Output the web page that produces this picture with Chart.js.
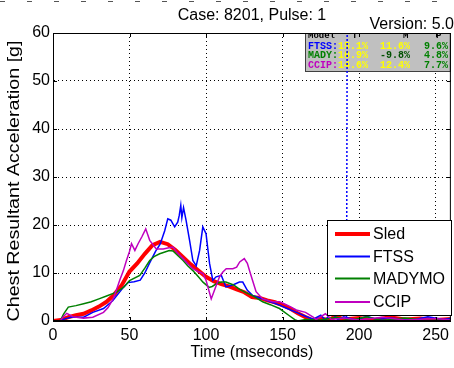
<!DOCTYPE html>
<html lang="en">
<head>
<meta charset="UTF-8">
<title>Case: 8201, Pulse: 1</title>
<script src="https://cdn.jsdelivr.net/npm/chart.js@4.4.0/dist/chart.umd.min.js"></script>
<style>body{margin:0;background:#fff}</style>
</head>
<body>
<canvas id="myChart" width="454" height="368"></canvas>
<script>
// values (time in ms, acceleration in g)
const sledT = [0,5,10,15,20,25,30,35,40,45,50,55,60,65,70,75,80,85,90,95,100,105,110,115,120,125,130,135,140,145,150,155,160,165,170,175,180,185,190,200,210,220,230,240,250,260];
const sledG = [0,0.2,0.8,1.2,1.5,2.2,3.0,4.0,5.5,7.5,10.3,12.0,14.0,15.8,16.5,16.0,14.8,13.3,11.8,10.5,9.2,8.3,7.7,7.2,6.6,6.0,5.0,4.8,4.3,3.9,3.3,2.6,1.6,0.8,0.1,0.5,0.2,1.0,0.3,0.6,0.2,0.8,0.3,0.5,0.2,0.4];

const ftssT = [0,5,8,12,20,26,33,39,46,49,53,57,60,63,67,70,73,75,77,79.5,81.5,82.5,83.5,84.2,85.3,87,89.3,91.4,93.6,95.8,97.9,100,102.3,104.4,106.6,110,113,117.5,121.8,124,127,130.5,137,142,148,153,159,165,170,175,178,182,186,190,198,205,212,220,235,245,255,260];
const ftssG = [0,0,0.5,0.8,0.8,1.8,2.6,4.2,7.0,8.0,8.2,8.5,10,12,14.5,16,18.8,21.3,21,19.6,20.6,22,24.1,21.5,23.6,20.9,16.7,12.6,11.5,14.7,19.6,18.2,12,8.5,9.2,9.5,7.1,7.5,8.1,8.1,6.4,5.3,4.6,4.0,3.3,2.6,1.8,1.0,0.4,1.2,0.2,1.8,0.3,0.9,0.2,1.0,0.3,0.6,0.2,0.9,0.3,0.6];

const madyT = [0,4.6,7,10,15,20,25,30,35,41.5,46,50,56.7,60,63.2,66,69.7,76,78.4,81,85,88,91.4,95,98,102,104,107,110,113,118,122,126,130.5,137,142,148,154,158,160,165,175,185,195,205,215,230,245,260];
const madyG = [0,0,1.5,2.9,3.2,3.6,4.0,4.6,5.2,6.0,7.0,8.4,9.5,11,12.6,13.4,14,14.7,14.6,13.8,12.6,11.5,10.5,9.2,8.1,7.0,7.2,7.8,8.1,8.1,7.5,6.6,5.9,5.3,4.0,3.4,2.6,1.2,0.3,0,0.3,0.2,0.8,0.2,0.9,0.1,0.6,0.1,0.3];

const ccipT = [0,4.6,7,9,13,20,26,33,36,39.3,41.5,43.6,46,48,50,51.3,53.5,55.6,58,60.6,63.2,67.5,72,75,78.4,81,85,88,91.4,95,98,100,103.4,105.5,108.8,111,113.2,117.5,120,122,125,127,129,132.7,137,143.5,148,151,155,159,165,170,172,178,182,190,200,215,230,250,260];
const ccipG = [0,0,1.0,1.6,0.9,0.6,0.8,1.8,2.8,4.6,6.5,8.5,10.5,12.6,14.5,16.1,14.7,16.1,17.5,19.2,16.8,15,15,15.2,15.4,14.3,13,12,10.9,10.3,9.9,8.5,4.6,6.4,9.2,10.2,10.9,10.9,11.2,12.3,13.0,12,9.9,6.1,4.6,4.0,4.0,3.6,3.0,2.3,1.8,0.8,0.3,1.5,0.3,0.6,0.2,0.8,0.2,0.5,0.2];

// FTSS spike that leaves the axes around 192 ms
const spikeT = [191.8,192.3];
const spikeG = [0,70];

const seriesNames = ['Sled','FTSS','MADYMO','CCIP'];
const seriesColors = ['#ff0000','#0000ff','#008000','#bf00bf'];
const xTicks = [0,50,100,150,200,250];
const yTicks = [0,10,20,30,40,50,60];

// fit table (model, T, M, P)
const fitModels = ['FTSS:','MADY:','CCIP:'];
const fitT = ['15.1%','10.9%','14.6%'];
const fitM = ['11.6%','-9.8%','12.4%'];
const fitP = ['9.6%','4.8%','7.7%'];

const FONT = '"Liberation Sans", Arial, sans-serif';
const MONO = 'bold 10px "Liberation Mono", "DejaVu Sans Mono", monospace';

function pts(t, g){ return t.map((v,i) => ({x: v, y: g[i]})); }

const decor = {
    id: 'decor',
    beforeDatasetsDraw(chart){
        const ctx = chart.ctx;
        const a = chart.chartArea;
        // fit table in the upper right corner
        const x0 = 305, y0 = a.top, x1 = a.right, y1 = 72;
        ctx.save();
        ctx.fillStyle = '#c0c0c0';
        ctx.fillRect(x0, y0, x1 - x0, y1 - y0);
        ctx.strokeStyle = '#404040';
        ctx.lineWidth = 1;
        ctx.strokeRect(x0 + 0.5, y0 + 0.5, x1 - x0 - 1, y1 - y0 - 1);
        ctx.beginPath();
        ctx.rect(x0, y0, x1 - x0, y1 - y0);
        ctx.clip();
        ctx.textBaseline = 'alphabetic';
        ctx.fillStyle = '#000';
        ctx.font = 'bold 9px "Liberation Mono", monospace';
        ctx.fillText('Model', 308, 38);
        ctx.fillText('T', 352, 38);
        ctx.fillText('M', 403, 38);
        ctx.fillText('P', 436, 38);
        ctx.font = MONO;
        const labelCol = ['#0000ff','#008000','#bf00bf'];
        const mCol = ['#ffff00','#005000','#ffff00'];
        for (let i = 0; i < 3; i++){
            const yb = 48.5 + i * 9.5;
            ctx.fillStyle = labelCol[i];
            ctx.fillText(fitModels[i], 308, yb);
            ctx.fillStyle = '#ffff00';
            ctx.fillText(fitT[i], 338, yb);
            ctx.fillStyle = mCol[i];
            ctx.textAlign = 'right';
            ctx.fillText(fitM[i], 410, yb);
            ctx.fillStyle = '#008000';
            ctx.fillText(fitP[i], 448, yb);
            ctx.textAlign = 'left';
        }
        ctx.restore();
    },
    afterDatasetsDraw(chart){
        const ctx = chart.ctx;
        const a = chart.chartArea;
        const xs = chart.scales.x, ys = chart.scales.y;
        ctx.save();
        // axes box and inward ticks
        ctx.strokeStyle = '#000';
        ctx.lineWidth = 1;
        ctx.strokeRect(a.left + 0.5, a.top + 0.5, a.right - a.left - 1, a.bottom - a.top - 1);
        ctx.beginPath();
        xTicks.forEach(v => {
            const px = Math.round(xs.getPixelForValue(v)) + 0.5;
            ctx.moveTo(px, a.bottom); ctx.lineTo(px, a.bottom - 4);
            ctx.moveTo(px, a.top); ctx.lineTo(px, a.top + 4);
        });
        yTicks.forEach(v => {
            const py = Math.round(ys.getPixelForValue(v)) + 0.5;
            ctx.moveTo(a.left, py); ctx.lineTo(a.left + 4, py);
            ctx.moveTo(a.right, py); ctx.lineTo(a.right - 4, py);
        });
        ctx.stroke();

        // legend box inside the axes
        const lx = 327, ly = 220, lw = 124, lh = 95;
        ctx.fillStyle = '#fff';
        ctx.fillRect(lx, ly, lw, lh);
        ctx.strokeRect(lx + 0.5, ly + 0.5, lw, lh);
        const rows = [234, 256.5, 278.5, 302];
        ctx.font = '16px ' + FONT;
        ctx.textBaseline = 'middle';
        seriesNames.forEach((n, i) => {
            ctx.strokeStyle = seriesColors[i];
            ctx.lineWidth = i === 0 ? 4 : 2;
            ctx.beginPath();
            ctx.moveTo(335, rows[i]); ctx.lineTo(370, rows[i]);
            ctx.stroke();
            ctx.fillStyle = '#000';
            ctx.fillText(n, 373, rows[i] + 1);
        });
        ctx.restore();
    },
    afterDraw(chart){
        const ctx = chart.ctx;
        ctx.save();
        ctx.fillStyle = '#000';
        ctx.textBaseline = 'alphabetic';
        ctx.font = '16px ' + FONT;
        ctx.textAlign = 'center';
        ctx.fillText('Case: 8201, Pulse: 1', 252, 20);
        ctx.textAlign = 'right';
        ctx.fillText('Version: 5.0', 454, 29);
        // clipped row at the very top
        ctx.strokeStyle = '#555';
        ctx.setLineDash([5, 22]);
        ctx.beginPath();
        ctx.moveTo(0, 1.5); ctx.lineTo(454, 1.5);
        ctx.stroke();
        ctx.setLineDash([]);
        // y axis title, stretched like the original
        ctx.translate(15, 181);
        ctx.rotate(-Math.PI / 2);
        ctx.textAlign = 'center';
        ctx.textBaseline = 'middle';
        const title = 'Chest Resultant Acceleration [g]';
        const w = ctx.measureText(title).width;
        ctx.scale(281 / w, 1);
        ctx.fillText(title, 0, 0);
        ctx.restore();
    }
};

const gridColor = c => (c.tick && (c.tick.value === 0 || c.tick.value === 60)) ? 'rgba(0,0,0,0)' : '#000';

new Chart(document.getElementById('myChart'), {
    type: 'line',
    data: {
        datasets: [
            {label: 'Sled', data: pts(sledT, sledG), borderColor: seriesColors[0], borderWidth: 4, order: 4},
            {label: 'FTSS', data: pts(ftssT, ftssG), borderColor: seriesColors[1], borderWidth: 1.5, order: 3},
            {label: 'FTSS spike', data: pts(spikeT, spikeG), borderColor: seriesColors[1], borderWidth: 1.5, borderDash: [2, 2], order: 3},
            {label: 'MADYMO', data: pts(madyT, madyG), borderColor: seriesColors[2], borderWidth: 1.5, order: 2},
            {label: 'CCIP', data: pts(ccipT, ccipG), borderColor: seriesColors[3], borderWidth: 1.5, order: 1}
        ]
    },
    options: {
        responsive: false,
        animation: false,
        events: [],
        layout: {padding: {top: 33, right: 2, left: 0, bottom: 0}},
        elements: {point: {radius: 0}, line: {tension: 0, fill: false}},
        plugins: {legend: {display: false}, tooltip: {enabled: false}, title: {display: false}},
        scales: {
            x: {
                type: 'linear', min: 0, max: 260,
                afterFit: s => { s.height = 47; },
                ticks: {stepSize: 50, includeBounds: false, padding: 5, color: '#000', font: {family: FONT, size: 16}, maxRotation: 0},
                grid: {color: gridColor, drawTicks: false, lineWidth: 1},
                border: {display: true, color: '#000', dash: [1, 3]},
                title: {display: true, text: 'Time (mseconds)', color: '#000', font: {family: FONT, size: 16}, padding: {top: 0, bottom: 6}}
            },
            y: {
                min: 0, max: 60,
                afterFit: s => { s.width = 53; },
                ticks: {stepSize: 10, padding: 3, color: '#000', font: {family: FONT, size: 16}},
                grid: {color: gridColor, drawTicks: false, lineWidth: 1},
                border: {display: true, color: '#000', dash: [1, 3]}
            }
        }
    },
    plugins: [decor]
});
</script>
</body>
</html>
